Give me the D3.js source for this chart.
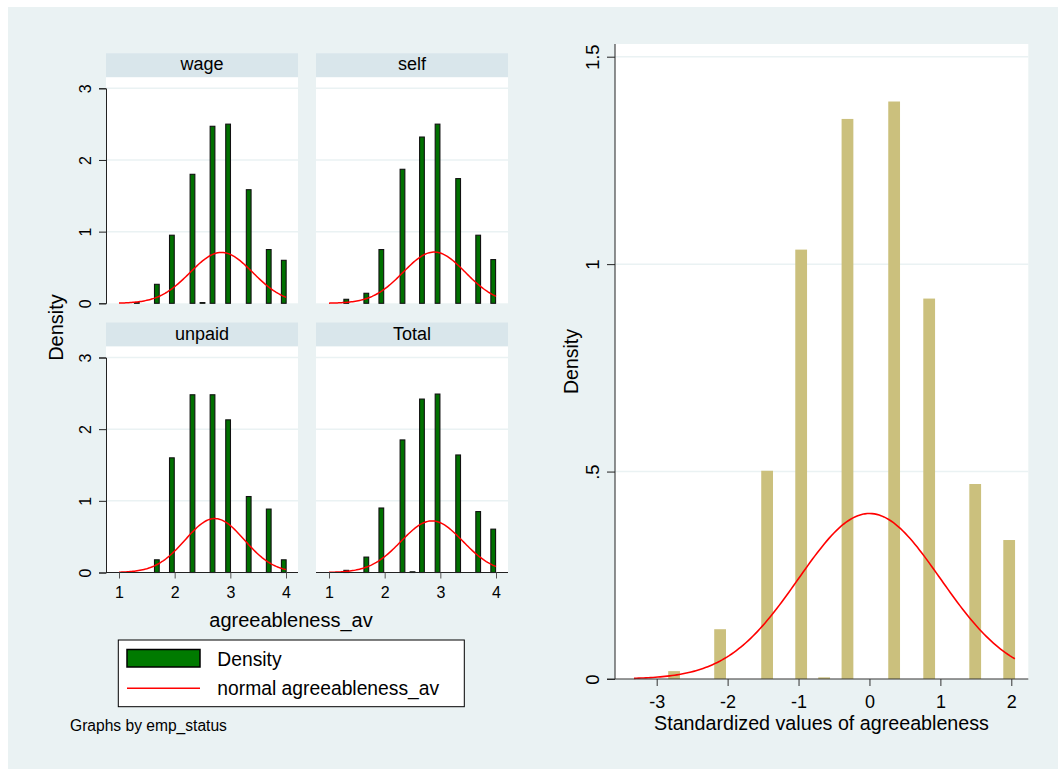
<!DOCTYPE html>
<html>
<head>
<meta charset="utf-8">
<script src="https://cdn.jsdelivr.net/npm/d3@7"></script>
<style>
  body { margin: 0; background: #ffffff; }
  svg text { font-family: "Liberation Sans", Arial, sans-serif; fill: #000; }
</style>
</head>
<body>
<div id="graph"></div>
<script>
// values
var panelNames = ["wage", "self", "unpaid", "Total"];

var wageX = [1.32, 1.68, 1.95, 2.32, 2.50, 2.68, 2.96, 3.33, 3.69, 3.96];
var wageY = [0.01, 0.265, 0.95, 1.80, 0.01, 2.47, 2.50, 1.585, 0.75, 0.60];
var selfX = [1.31, 1.67, 1.94, 2.32, 2.67, 2.95, 3.32, 3.68, 3.95];
var selfY = [0.056, 0.14, 0.75, 1.87, 2.32, 2.50, 1.74, 0.95, 0.61];
var unpaidX = [1.68, 1.95, 2.32, 2.68, 2.96, 3.33, 3.69, 3.96];
var unpaidY = [0.177, 1.60, 2.48, 2.48, 2.13, 1.06, 0.885, 0.177];
var totalX = [1.31, 1.67, 1.94, 2.32, 2.50, 2.67, 2.95, 3.32, 3.68, 3.95];
var totalY = [0.03, 0.215, 0.90, 1.85, 0.01, 2.42, 2.49, 1.64, 0.85, 0.605];

// normal overlay parameters (mean, sd) per panel
var normMean = [2.84, 2.89, 2.72, 2.85];
var normSd = [0.562, 0.558, 0.53, 0.554];
var normRange = [1, 4];

var leftXTicks = [1, 2, 3, 4];
var leftYTicks = [0, 1, 2, 3];

// standardized chart
var zX = [-2.755, -2.106, -1.443, -0.963, -0.639, -0.310, 0.348, 0.842, 1.491, 1.970];
var zY = [0.019, 0.12, 0.502, 1.035, 0.004, 1.35, 1.392, 0.917, 0.470, 0.335];
var zRange = [-3.32, 2.05];
var rightXTicks = [-3, -2, -1, 0, 1, 2];
var rightYTicks = [0, 0.5, 1, 1.5];
var rightYLabels = ["0", ".5", "1", "1.5"];

var legendLabels = ["Density", "normal agreeableness_av"];

var W = 1058, H = 769;
var bg = "#eaf2f3", strip = "#d9e6eb", grid = "#eaf2f3";

var svg = d3.select('#graph').append('svg')
  .attr('width', W).attr('height', H);

svg.append('rect').attr('x', 8).attr('y', 7).attr('width', W - 8).attr('height', H - 7)
  .attr('fill', bg);

function normPdf(x, m, s) {
  return Math.exp(-0.5 * ((x - m) / s) * ((x - m) / s)) / (s * Math.sqrt(2 * Math.PI));
}

// ---------- left: small multiples ----------
var panelW = 192, plotH = 226, stripH = 24;
var colX = [106, 316];
var rowY = [53.3, 322.5];
var panelData = [[wageX, wageY], [selfX, selfY], [unpaidX, unpaidY], [totalX, totalY]];

var xL = d3.scaleLinear().domain([1, 4]).range([13, 180]);
var yL = d3.scaleLinear().domain([0, 3]).range([plotH, plotH - 215]);
var barW = 0.085;

panelData.forEach(function(pd, i) {
  var col = i % 2, row = Math.floor(i / 2);
  var g = svg.append('g').attr('transform', `translate(${colX[col]},${rowY[row]})`);

  g.append('rect').attr('width', panelW).attr('height', stripH).attr('fill', strip);
  g.append('text').attr('x', panelW / 2).attr('y', 17).attr('text-anchor', 'middle')
    .style('font-size', '18px').text(panelNames[i]);

  var p = g.append('g').attr('transform', `translate(0,${stripH})`);
  p.append('rect').attr('width', panelW).attr('height', plotH).attr('fill', '#fff');

  p.selectAll('line.grid').data([1, 2, 3]).enter().append('line')
    .attr('x1', 0).attr('x2', panelW)
    .attr('y1', d => yL(d)).attr('y2', d => yL(d))
    .attr('stroke', grid).attr('stroke-width', 1.5);

  var bars = pd[0].map((x, k) => ({x: x, y: pd[1][k]}));
  p.selectAll('rect.bar').data(bars).enter().append('rect')
    .attr('x', d => xL(d.x - barW / 2))
    .attr('width', d => xL(d.x + barW / 2) - xL(d.x - barW / 2))
    .attr('y', d => yL(d.y))
    .attr('height', d => yL(0) - yL(d.y))
    .attr('fill', '#007000').attr('stroke', '#111').attr('stroke-width', 1.1);

  var pts = d3.range(0, 121).map(k => normRange[0] + (normRange[1] - normRange[0]) * k / 120);
  var line = d3.line().x(d => xL(d)).y(d => yL(normPdf(d, normMean[i], normSd[i])));
  p.append('path').datum(pts).attr('d', line)
    .attr('fill', 'none').attr('stroke', 'red').attr('stroke-width', 1.5);

  if (col === 0) {
    var ya = p.append('g').call(d3.axisLeft(yL).tickValues(leftYTicks).tickSize(7).tickFormat(d3.format('d')));
    ya.select('.domain').attr('stroke', '#222');
    ya.selectAll('.tick line').attr('stroke', '#222');
    ya.selectAll('.tick text').attr('transform', 'rotate(-90)')
      .attr('x', 0).attr('y', -15.5).attr('dy', 0).attr('text-anchor', 'middle')
      .style('font-size', '16px').attr('fill', '#000');
  }
  if (row === 1) {
    var xa = p.append('g').attr('transform', `translate(0,${plotH})`)
      .call(d3.axisBottom(xL).tickValues(leftXTicks).tickSize(6).tickFormat(d3.format('d')));
    xa.select('.domain').attr('stroke', '#222').attr('d', `M0,0H${panelW}`);
    xa.selectAll('.tick line').attr('stroke', '#555');
    xa.selectAll('.tick text').attr('y', 25.5).attr('dy', 0)
      .style('font-size', '16px').attr('fill', '#000');
  }
});

svg.append('text').attr('transform', 'translate(62.7,327.5) rotate(-90)')
  .attr('text-anchor', 'middle').style('font-size', '20px').text('Density');
svg.append('text').attr('x', 291).attr('y', 627).attr('text-anchor', 'middle')
  .style('font-size', '20px').text('agreeableness_av');

// legend
var lg = svg.append('g');
lg.append('rect').attr('x', 118.3).attr('y', 640).attr('width', 346).attr('height', 66.7)
  .attr('fill', '#fff').attr('stroke', '#000').attr('stroke-width', 1);
lg.append('rect').attr('x', 127).attr('y', 649.5).attr('width', 73).attr('height', 17.5)
  .attr('fill', '#007a00').attr('stroke', '#000').attr('stroke-width', 1.5);
lg.append('line').attr('x1', 127).attr('x2', 200).attr('y1', 688.3).attr('y2', 688.3)
  .attr('stroke', 'red').attr('stroke-width', 1.5);
lg.selectAll('text').data(legendLabels).enter().append('text')
  .attr('x', 217.3).attr('y', (d, i) => i === 0 ? 666 : 695)
  .style('font-size', '19.3px').text(d => d);

svg.append('text').attr('x', 70).attr('y', 730.5).style('font-size', '15.6px').text('Graphs by emp_status');

// ---------- right: standardized histogram ----------
var rx0 = 615, rx1 = 1028.3, ry0 = 44, ry1 = 679;
var xR = d3.scaleLinear().domain([-3, 2]).range([656.7, 1011.3]);
var yR = d3.scaleLinear().domain([0, 1.5]).range([679, 56.7]);
var zBarW = 0.166;

var r = svg.append('g');
r.append('rect').attr('x', rx0).attr('y', ry0).attr('width', rx1 - rx0).attr('height', ry1 - ry0)
  .attr('fill', '#fff');
r.selectAll('line.grid').data([0.5, 1, 1.5]).enter().append('line')
  .attr('x1', rx0).attr('x2', rx1).attr('y1', d => yR(d)).attr('y2', d => yR(d))
  .attr('stroke', grid).attr('stroke-width', 1.5);

var zBars = zX.map((x, k) => ({x: x, y: zY[k]}));
r.selectAll('rect.bar').data(zBars).enter().append('rect')
  .attr('x', d => xR(d.x - zBarW / 2))
  .attr('width', d => xR(d.x + zBarW / 2) - xR(d.x - zBarW / 2))
  .attr('y', d => yR(d.y)).attr('height', d => yR(0) - yR(d.y))
  .attr('fill', '#cbc07d');

var zPts = d3.range(0, 161).map(k => zRange[0] + (zRange[1] - zRange[0]) * k / 160);
r.append('path').datum(zPts)
  .attr('d', d3.line().x(d => xR(d)).y(d => yR(normPdf(d, 0, 1))))
  .attr('fill', 'none').attr('stroke', 'red').attr('stroke-width', 1.6);

var rya = r.append('g').attr('transform', `translate(${rx0},0)`)
  .call(d3.axisLeft(yR).tickValues(rightYTicks).tickSize(8).tickFormat((d, i) => rightYLabels[i]));
rya.select('.domain').attr('stroke', '#222').attr('d', `M0,${ry1}V${ry0}`);
rya.selectAll('.tick line').attr('stroke', '#222');
rya.selectAll('.tick text').attr('transform', 'rotate(-90)')
  .attr('x', 0).attr('y', -16.5).attr('dy', 0).attr('text-anchor', 'middle')
  .style('font-size', '18.5px').attr('fill', '#000');

var rxa = r.append('g').attr('transform', `translate(0,${ry1})`)
  .call(d3.axisBottom(xR).tickValues(rightXTicks).tickSize(7).tickFormat(d3.format('d')));
rxa.select('.domain').attr('stroke', '#333').attr('d', `M${rx0 - 8},0H${rx1}`);
rxa.selectAll('.tick line').attr('stroke', '#333');
rxa.selectAll('.tick text').attr('y', 28.5).attr('dy', 0)
  .style('font-size', '18px').attr('fill', '#000')
  .text(d => d < 0 ? '-' + Math.abs(d) : d);

svg.append('text').attr('transform', 'translate(578,361.5) rotate(-90)')
  .attr('text-anchor', 'middle').style('font-size', '19.5px').text('Density');
svg.append('text').attr('x', 821.5).attr('y', 729.5).attr('text-anchor', 'middle')
  .style('font-size', '19.7px').text('Standardized values of agreeableness');
</script>
</body>
</html>
